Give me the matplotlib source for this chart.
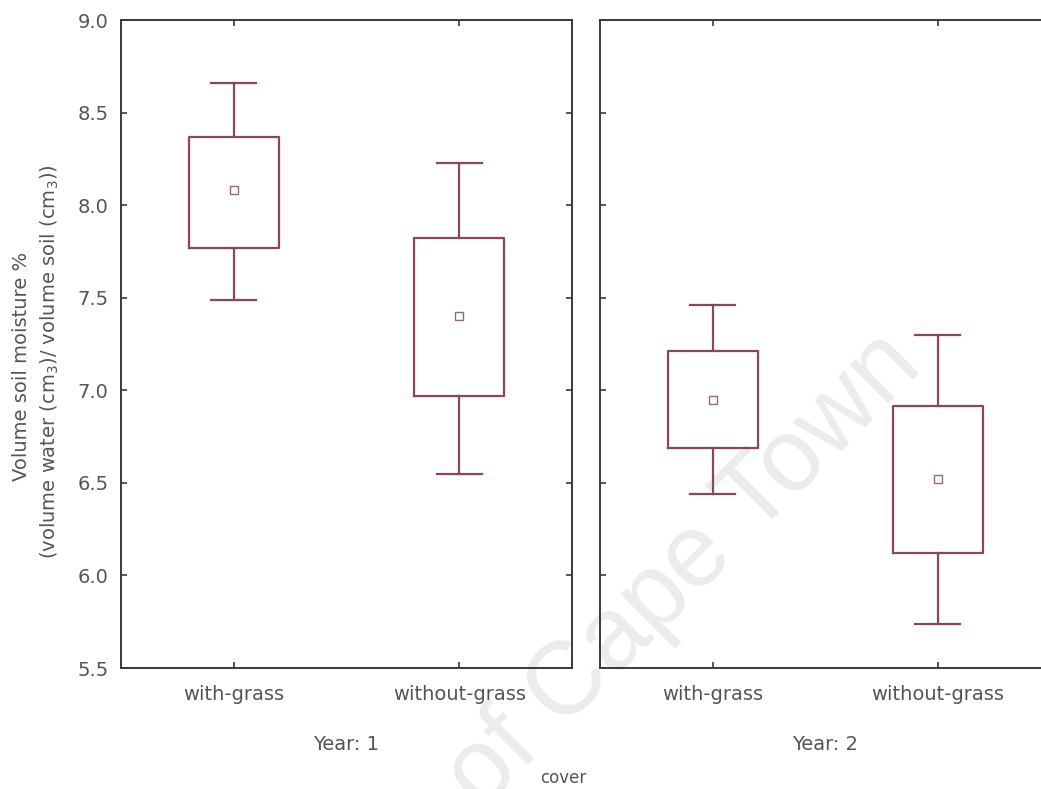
import matplotlib
matplotlib.use("Agg")
import matplotlib.pyplot as plt

# ---- data ----
categories = ["with-grass", "without-grass"]
years = ["Year: 1", "Year: 2"]
# per year: [with-grass, without-grass]
mean_vals = [[8.08, 7.40], [6.95, 6.52]]
box_low   = [[7.77, 6.97], [6.69, 6.12]]
box_high  = [[8.37, 7.82], [7.21, 6.915]]
whisk_low = [[7.49, 6.55], [6.44, 5.735]]
whisk_high= [[8.66, 8.23], [7.46, 7.30]]
y_ticks = [5.5, 6.0, 6.5, 7.0, 7.5, 8.0, 8.5, 9.0]
y_tick_labels = ["5.5", "6.0", "6.5", "7.0", "7.5", "8.0", "8.5", "9.0"]

W, H = 1041, 789
fig = plt.figure(figsize=(W / 100, H / 100), dpi=100)
fig.patch.set_facecolor("white")

box_color = "#8a4855"
spine_color = "#3a3a3a"
text_color = "#555555"
fs = 14

def px(x0, y0, x1, y1):
    return [x0 / W, 1 - y1 / H, (x1 - x0) / W, (y1 - y0) / H]

axes_pos = [px(121, 20, 572, 668), px(600, 20, 1050, 668)]

# watermark (only the visible part of it)
fig.text(925 / W, 1 - 368 / H, "of Cape Town", fontsize=74,
         family="Liberation Sans", color="#ececec", rotation=45,
         rotation_mode="anchor", ha="right", va="baseline", zorder=-5)

for i, pos in enumerate(axes_pos):
    ax = fig.add_axes(pos)
    ax.set_facecolor("none")
    stats = []
    for j, cat in enumerate(categories):
        stats.append(dict(med=mean_vals[i][j], mean=mean_vals[i][j],
                          q1=box_low[i][j], q3=box_high[i][j],
                          whislo=whisk_low[i][j], whishi=whisk_high[i][j],
                          fliers=[], label=cat))
    ax.bxp(stats, positions=range(len(categories)), widths=0.4,
           showmeans=True, showfliers=False,
           boxprops=dict(color=box_color, linewidth=1.6),
           whiskerprops=dict(color=box_color, linewidth=1.6),
           capprops=dict(color=box_color, linewidth=1.6),
           medianprops=dict(linewidth=0),
           meanprops=dict(marker="s", markersize=6, markerfacecolor="white",
                          markeredgecolor="#9a6a72", markeredgewidth=1.0))
    ax.set_xlim(-0.5, 1.5)
    ax.set_ylim(5.5, 9.0)
    ax.set_yticks(y_ticks)
    ax.set_xticks(range(len(categories)))
    ax.set_xticklabels(categories, fontsize=fs, color=text_color)
    if i == 0:
        ax.set_yticklabels(y_tick_labels, fontsize=fs, color=text_color)
    else:
        ax.set_yticklabels([])
    ax.tick_params(axis="both", direction="in", length=4, width=1.2,
                   color=spine_color, top=True, right=True)
    ax.tick_params(axis="x", pad=12)
    ax.tick_params(axis="y", pad=9)
    for s in ax.spines.values():
        s.set_color(spine_color)
        s.set_linewidth(1.4)
    cx = (pos[0] + pos[0] + pos[2]) / 2
    fig.text(cx, 1 - 745 / H, years[i], fontsize=fs, color=text_color,
             ha="center", va="center")

fig.text(563 / W, 1 - 778 / H, "cover", fontsize=12, color=text_color,
         ha="center", va="center")
fig.text(22 / W, 1 - 366 / H, "Volume soil moisture %", fontsize=fs,
         color=text_color, rotation=90, ha="center", va="center")
fig.text(50 / W, 1 - 362 / H,
         "(volume water (cm$_3$)/ volume soil (cm$_3$))", fontsize=fs,
         color=text_color, rotation=90, ha="center", va="center")

fig.savefig("out.png", dpi=100, facecolor="white")
